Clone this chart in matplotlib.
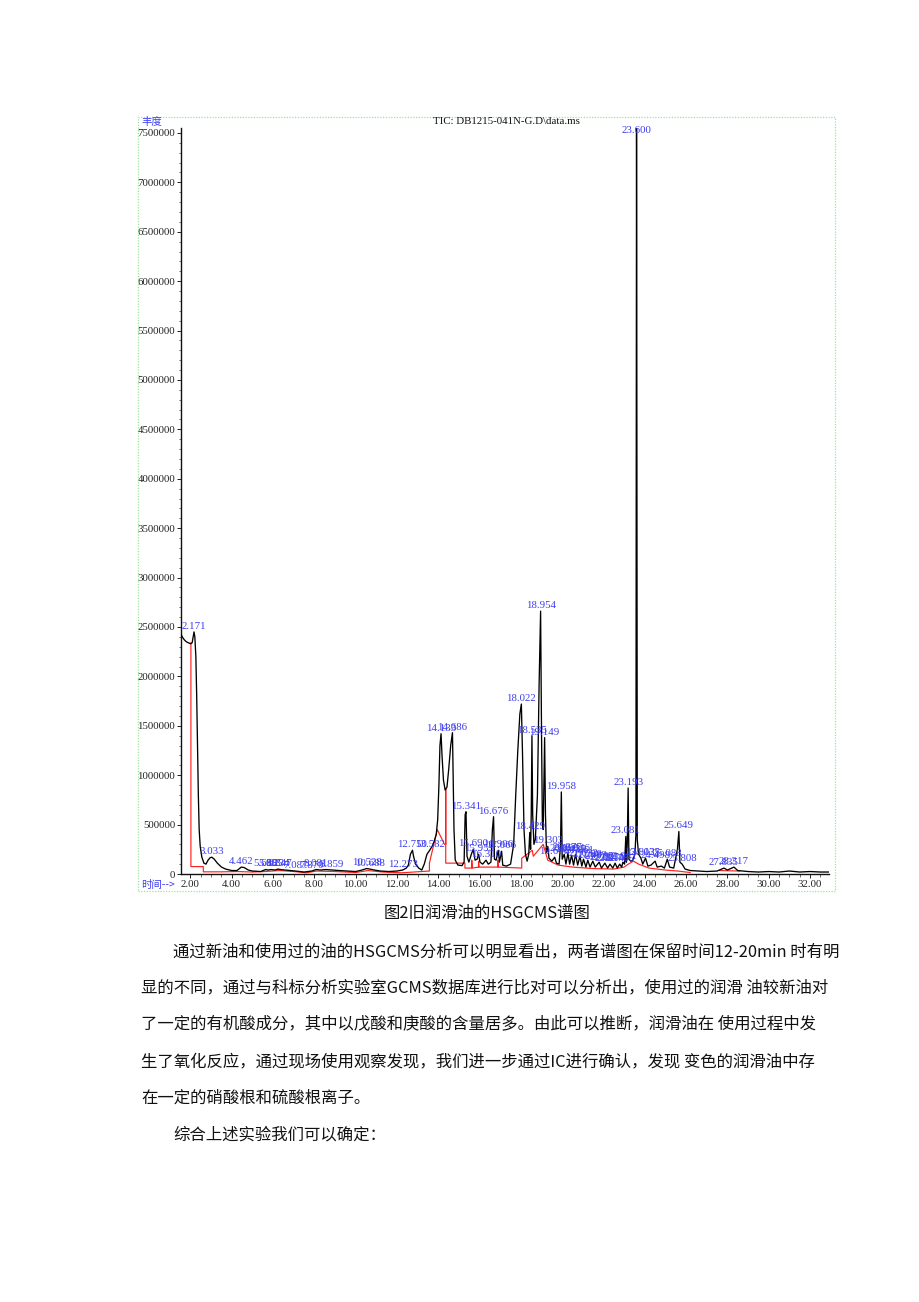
import numpy as np
import matplotlib
matplotlib.use("Agg")
import matplotlib.pyplot as plt
from matplotlib.ticker import MultipleLocator, FuncFormatter
from matplotlib.patches import Rectangle

# ---------------- data ----------------
# TIC trace: retention time (min) and abundance (millions)
tic_time = [1.54, 1.60, 1.70, 1.80, 1.90, 2.00, 2.08, 2.13, 2.171, 2.21, 2.26, 2.30, 2.34, 2.38,
            2.42, 2.47, 2.55, 2.65, 2.75, 2.85, 2.95, 3.033, 3.15, 3.30, 3.50, 3.70, 4.00, 4.25,
            4.40, 4.462, 4.60, 4.80, 5.00, 5.40, 5.638, 5.75, 5.895, 6.10, 6.234, 6.347, 6.60,
            6.80, 7.087, 7.50, 7.870, 8.081, 8.30, 8.55, 8.859, 9.20, 9.60, 10.00, 10.30, 10.528,
            10.688, 10.90, 11.20, 11.60, 12.00, 12.273, 12.45, 12.55, 12.65, 12.750, 12.80, 12.90,
            13.05, 13.20, 13.32, 13.45, 13.582, 13.70, 13.80, 13.90, 13.97, 14.03, 14.08, 14.133,
            14.18, 14.25, 14.33, 14.42, 14.50, 14.60, 14.686, 14.72, 14.76, 14.82, 14.95, 15.15,
            15.25, 15.30, 15.341, 15.39, 15.48, 15.60, 15.690, 15.78, 15.88, 15.953, 16.02, 16.15,
            16.310, 16.42, 16.55, 16.62, 16.676, 16.72, 16.80, 16.906, 16.96, 17.066, 17.12, 17.30,
            17.50, 17.65, 17.75, 17.85, 17.95, 18.022, 18.08, 18.15, 18.22, 18.30, 18.38, 18.429,
            18.47, 18.50, 18.535, 18.57, 18.63, 18.70, 18.80, 18.88, 18.954, 19.00, 19.04, 19.08,
            19.12, 19.149, 19.19, 19.24, 19.303, 19.36, 19.50, 19.636, 19.72, 19.85, 19.92, 19.958,
            20.00, 20.099, 20.18, 20.277, 20.36, 20.455, 20.55, 20.646, 20.75, 20.861, 20.95,
            21.032, 21.15, 21.238, 21.35, 21.483, 21.60, 21.792, 21.90, 22.067, 22.20, 22.314,
            22.45, 22.561, 22.67, 22.785, 22.88, 22.941, 23.02, 23.06, 23.081, 23.11, 23.15,
            23.193, 23.23, 23.32, 23.42, 23.52, 23.57, 23.59, 23.600, 23.615, 23.635, 23.70,
            23.812, 23.90, 24.035, 24.15, 24.30, 24.498, 24.60, 24.80, 24.95, 25.088, 25.20,
            25.40, 25.58, 25.649, 25.70, 25.808, 25.95, 26.20, 26.60, 27.00, 27.50, 27.835, 28.00,
            28.317, 28.50, 29.00, 29.50, 30.00, 30.50, 31.00, 31.50, 32.00, 32.50, 32.92]
tic_abund = [2.43, 2.40, 2.37, 2.35, 2.34, 2.33, 2.34, 2.40, 2.45, 2.40, 2.20, 1.80, 1.30, 0.80,
             0.45, 0.28, 0.17, 0.11, 0.10, 0.14, 0.165, 0.17, 0.15, 0.11, 0.07, 0.05, 0.035, 0.035,
             0.06, 0.07, 0.065, 0.04, 0.03, 0.025, 0.045, 0.04, 0.045, 0.04, 0.05, 0.045, 0.04,
             0.035, 0.03, 0.02, 0.03, 0.045, 0.04, 0.045, 0.04, 0.035, 0.03, 0.025, 0.04, 0.055,
             0.05, 0.04, 0.03, 0.025, 0.03, 0.04, 0.06, 0.09, 0.20, 0.24, 0.18, 0.10,
             0.06, 0.04, 0.10, 0.20, 0.24, 0.28, 0.33, 0.40, 0.55, 0.90, 1.30, 1.42,
             1.20, 0.95, 0.85, 0.88, 1.05, 1.30, 1.43, 1.00, 0.45, 0.14, 0.09, 0.085,
             0.12, 0.60, 0.63, 0.18, 0.12, 0.20, 0.25, 0.14, 0.15, 0.20, 0.12, 0.10,
             0.14, 0.10, 0.12, 0.45, 0.58, 0.15, 0.14, 0.24, 0.12, 0.23, 0.09, 0.08,
             0.10, 0.30, 0.80, 1.25, 1.62, 1.72, 1.20, 0.45, 0.20, 0.13, 0.20, 0.42,
             0.25, 0.60, 1.40, 0.60, 0.30, 0.35, 0.80, 1.90, 2.66, 1.40, 0.50, 0.45,
             1.00, 1.38, 0.60, 0.22, 0.28, 0.16, 0.13, 0.17, 0.11, 0.10, 0.30, 0.83,
             0.15, 0.20, 0.10, 0.21, 0.10, 0.19, 0.09, 0.20, 0.09, 0.18, 0.08,
             0.15, 0.07, 0.14, 0.07, 0.13, 0.07, 0.12, 0.06, 0.11, 0.06, 0.10,
             0.06, 0.11, 0.06, 0.10, 0.07, 0.12, 0.10, 0.30, 0.38, 0.12, 0.30,
             0.87, 0.15, 0.13, 0.14, 0.20, 0.40, 5.00, 7.60, 5.00, 0.35, 0.20,
             0.16, 0.10, 0.16, 0.08, 0.09, 0.13, 0.07, 0.08, 0.06, 0.15, 0.07,
             0.06, 0.25, 0.43, 0.12, 0.10, 0.05, 0.035, 0.03, 0.025, 0.03, 0.06, 0.04,
             0.07, 0.035, 0.025, 0.02, 0.025, 0.02, 0.03, 0.02, 0.025, 0.02, 0.02]

# integration baseline (red), NaN = gap
base_time = [2.02, 2.02, 2.62, 2.62, 3.50, 4.30, 5.00, 5.60, 6.30, 7.00, 7.60, 8.10, 9.00, 10.00,
             10.60, 11.30, 12.20, 13.57, 13.57, 13.95, 14.30, 14.36, 14.36, 14.36, 15.29, 15.29,
             15.62, 15.62, 15.64, 15.95, 15.95, 15.97, 16.50, 16.88, 16.88, 16.90, 18.04, 18.04,
             18.55, 18.60, 19.08, 19.30, 19.80, 20.50, 21.50, 22.50, 23.00, 23.20, 23.45, 23.70,
             24.20, 25.00, 25.60, 26.20, np.nan, 27.60, 28.60]
base_abund = [2.34, 0.075, 0.075, 0.022, 0.022, 0.025, 0.02, 0.025, 0.035, 0.025, 0.012, 0.03, 0.025,
              0.015, 0.035, 0.02, 0.012, 0.03, 0.11, 0.45, 0.30, 0.30, 0.86, 0.11, 0.11, 0.06,
              0.06, 0.14, 0.06, 0.07, 0.13, 0.07, 0.07, 0.07, 0.14, 0.07, 0.06, 0.16,
              0.24, 0.18, 0.30, 0.14, 0.09, 0.07, 0.055, 0.05, 0.07, 0.10, 0.13, 0.10,
              0.06, 0.04, 0.03, 0.015, np.nan, 0.035, 0.03]

# peak labels (retention times)
peak_labels = [2.171, 3.033, 4.462, 5.638, 5.895, 6.234, 6.347, 7.087, 7.870, 8.081, 8.859,
               10.528, 10.688, 12.273, 12.750, 13.582, 14.133, 14.686, 15.341, 15.690, 15.953,
               16.310, 16.676, 16.906, 17.066, 18.022, 18.429, 18.535, 18.954, 19.149, 19.303,
               19.636, 19.958, 20.099, 20.277, 20.455, 20.646, 20.861, 21.032, 21.238, 21.483,
               21.792, 22.067, 22.314, 22.561, 22.785, 22.941, 23.081, 23.193, 23.600, 23.812,
               24.035, 24.498, 25.088, 25.649, 25.808, 27.835, 28.317]

x_ticks = [2, 4, 6, 8, 10, 12, 14, 16, 18, 20, 22, 24, 26, 28, 30, 32]

title_text = "TIC: DB1215-041N-G.D\\data.ms"
caption = "图2旧润滑油的HSGCMS谱图"
para_lines = [
    "通过新油和使用过的油的HSGCMS分析可以明显看出，两者谱图在保留时间12-20min 时有明",
    "显的不同，通过与科标分析实验室GCMS数据库进行比对可以分析出，使用过的润滑 油较新油对",
    "了一定的有机酸成分，其中以戊酸和庚酸的含量居多。由此可以推断，润滑油在 使用过程中发",
    "生了氧化反应，通过现场使用观察发现，我们进一步通过IC进行确认，发现 变色的润滑油中存",
    "在一定的硝酸根和硫酸根离子。",
    "综合上述实验我们可以确定：",
]
para_indent = [True, False, False, False, False, True]

# ---------------- drawing ----------------
W, H = 920, 1302
def fx(x): return x / W
def fy(y): return 1 - y / H

CJK = ['Noto Sans CJK SC', 'DejaVu Sans']
SERIF = ['Liberation Serif', 'DejaVu Serif']
BLUE = '#3c3cf0'

fig = plt.figure(figsize=(W / 100, H / 100), dpi=100, facecolor='white')
ax = fig.add_axes([fx(181), fy(874), (829 - 181) / W, (874 - 128) / H])

t = np.array(tic_time)
a = np.array(tic_abund) * 1e6
bt = np.array(base_time)
ba = np.array(base_abund) * 1e6

ax.plot(bt, ba, color='#ff2020', lw=0.85, zorder=2)
ax.plot(t, a, color='black', lw=0.95, zorder=3)

ax.set_xlim(1.54, 32.92)
ax.set_ylim(0, 7.55e6)

for s in ['top', 'right']:
    ax.spines[s].set_visible(False)
for s in ['left', 'bottom']:
    ax.spines[s].set_linewidth(1.0)
    ax.spines[s].set_color('#111111')

ax.set_xticks(x_ticks)
ax.set_xticklabels([f"{v:.2f}" for v in x_ticks])
ax.xaxis.set_minor_locator(MultipleLocator(0.5))
ax.yaxis.set_major_locator(MultipleLocator(500000))
ax.yaxis.set_minor_locator(MultipleLocator(100000))
ax.yaxis.set_major_formatter(FuncFormatter(lambda v, p: f"{int(round(v))}"))
ax.tick_params(axis='both', which='major', direction='out', length=3, width=0.7,
               labelsize=7.8, colors='#222222', pad=1.2)
ax.tick_params(axis='y', which='minor', direction='out', length=1.5, width=0.5, colors='#333333')
ax.tick_params(axis='x', which='minor', direction='out', length=2, width=0.5, colors='#333333')
for lab in ax.get_xticklabels() + ax.get_yticklabels():
    lab.set_fontfamily(SERIF)

# peak labels
for pt in peak_labels:
    h = float(np.interp(pt, t, a))
    h = min(h, 7.47e6)
    ax.annotate(f"{pt:.3f}", xy=(pt, h), xytext=(0, 0.8), textcoords='offset points',
                ha='center', va='bottom', fontsize=7.8, color=BLUE, family=SERIF,
                annotation_clip=False, zorder=4)

# frame and header texts
fig.add_artist(Rectangle((fx(138), fy(891)), (835 - 138) / W, (891 - 117) / H,
                         transform=fig.transFigure, fill=False, edgecolor='#98e698',
                         linestyle=(0, (1, 1.2)), lw=0.9))
fig.text(fx(141), fy(122), "丰度", ha='left', va='center', fontsize=7.5, color=BLUE, family=CJK)
fig.text(fx(141), fy(885), "时间-->", ha='left', va='center', fontsize=7.5, color=BLUE, family=CJK)
fig.text(fx(433), fy(122), title_text, ha='left', va='center', fontsize=7.8, color='#111111',
         family=SERIF)

# caption and paragraph
fig.text(fx(487), fy(913), caption, ha='center', va='center', fontsize=11.8, color='#111111',
         family=CJK)
line_y = [952, 988, 1025, 1062, 1098, 1135]
for txt, ind, yy in zip(para_lines, para_indent, line_y):
    fig.text(fx(173 if ind else 141), fy(yy), txt, ha='left', va='center', fontsize=11.8,
             color='#111111', family=CJK)

fig.savefig("out.png", dpi=100, facecolor='white')
